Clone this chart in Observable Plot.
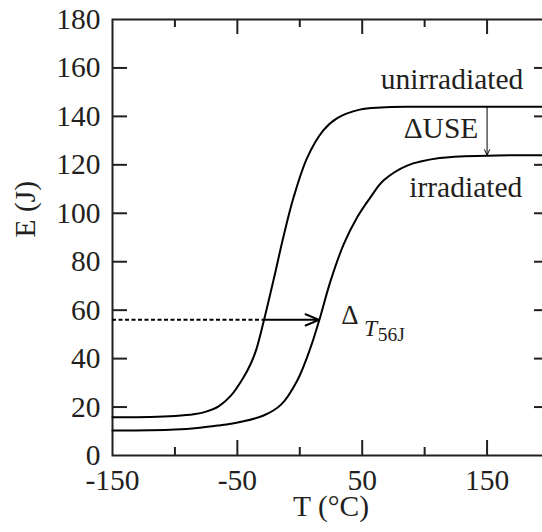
<!DOCTYPE html>
<html>
<head>
<meta charset="utf-8">
<script src="https://cdn.jsdelivr.net/npm/d3@7"></script>
<script src="https://cdn.jsdelivr.net/npm/@observablehq/plot@0.6"></script>
<style>
  html, body { margin: 0; padding: 0; background: white; overflow: hidden; }
  #chart svg { overflow: hidden; font-family: "Liberation Serif", serif; }
</style>
</head>
<body>
<div id="chart"></div>
<script>
// Unirradiated Charpy curve (T in °C, E in J)
const unirrT = [-150, -120, -100, -85, -75, -65, -55, -45, -39, -35, -29, -21, -13, -5, 6, 19, 30, 48, 65, 90, 130, 200];
const unirrE = [15.8, 15.9, 16.3, 17.0, 18.1, 20.3, 24.8, 32.3, 38.2, 43.5, 55.2, 72.5, 90.5, 106.5, 123.0, 134.3, 139.3, 142.8, 143.7, 144.0, 144.0, 144.0];

// Irradiated Charpy curve
const irrT = [-150, -120, -100, -80, -65, -55, -47, -29, -15, -2, 8.6, 15.5, 24.6, 35.3, 46, 56.6, 67, 86, 112, 150, 200];
const irrE = [10.3, 10.4, 10.7, 11.5, 12.4, 13.1, 13.9, 16.5, 21.0, 31.0, 44.5, 55.7, 72.0, 87.4, 98.4, 106.6, 113.5, 119.7, 122.8, 123.8, 124.0];

// Annotations
const e56 = 56;            // 56 J level
const t56Unirr = -28.7;    // crossing of unirradiated curve
const t56Irr = 15.5;       // crossing of irradiated curve
const useT = 150;          // position of ΔUSE arrow
const useUpper = 144;
const useLower = 124;

// Axis ticks
const xTickLabels = [-150, -50, 50, 150];
const xMajorTicks = [-50, 50, 150];
const xMinorTicks = [-100, 0, 100];
const yTickLabels = [0, 20, 40, 60, 80, 100, 120, 140, 160, 180];
const yInnerTicks = [20, 40, 60, 80, 100, 120, 140, 160];

// Text labels
const labels = [
  {x: 179, y: 155.3, text: "unirradiated"},
  {x: 178.2, y: 110.8, text: "irradiated"},
  {x: 143, y: 134.8, text: "ΔUSE"}
];

const unirr = unirrT.map((t, i) => ({T: t, E: unirrE[i]}));
const irr = irrT.map((t, i) => ({T: t, E: irrE[i]}));

const ink = "#231f20";
const serif = "Liberation Serif";
const fs = 29.5;
const frameH = 436; // 532 - 19 - 77
const frameW = 437; // 542 - 112 + 7

const chart = Plot.plot({
  width: 542,
  height: 532,
  marginLeft: 112,
  marginRight: -7,
  marginTop: 19,
  marginBottom: 77,
  x: {domain: [-150, 200]},
  y: {domain: [0, 180]},
  style: {fontFamily: serif, fontSize: fs + "px", color: ink, background: "white", overflow: "hidden"},
  marks: [
    // ticks (inward)
    Plot.ruleX(xMajorTicks, {stroke: ink, strokeWidth: 2, insetTop: frameH - 15}),
    Plot.ruleX(xMinorTicks, {stroke: ink, strokeWidth: 2, insetTop: frameH - 8}),
    Plot.ruleX(xMajorTicks, {stroke: ink, strokeWidth: 2, insetBottom: frameH - 15}),
    Plot.ruleX(xMinorTicks, {stroke: ink, strokeWidth: 2, insetBottom: frameH - 8}),
    Plot.ruleY(yInnerTicks, {stroke: ink, strokeWidth: 2, insetRight: frameW - 15}),
    Plot.ruleY(yInnerTicks, {stroke: ink, strokeWidth: 2, insetLeft: frameW - 15}),
    Plot.axisX({ticks: xTickLabels, tickSize: 0, tickPadding: 13.5, tickFormat: d => String(d), label: null, fontSize: fs, fontFamily: serif, fill: ink}),
    Plot.axisY({ticks: yTickLabels, tickSize: 0, tickPadding: 12, tickFormat: d => String(d), label: null, fontSize: fs, fontFamily: serif, fill: ink}),
    Plot.frame({stroke: ink, strokeWidth: 2}),
    // curves
    Plot.line(unirr, {x: "T", y: "E", curve: "catmull-rom", stroke: "black", strokeWidth: 2}),
    Plot.line(irr, {x: "T", y: "E", curve: "catmull-rom", stroke: "black", strokeWidth: 2}),
    // 56 J dotted line and ΔT arrow
    Plot.ruleY([e56], {x1: -150, x2: t56Unirr, stroke: "black", strokeWidth: 2, strokeDasharray: "4,2.5"}),
    Plot.arrow([{x1: t56Unirr, x2: t56Irr, y: e56}], {x1: "x1", x2: "x2", y1: "y", y2: "y", stroke: "black", strokeWidth: 2, headLength: 11, headAngle: 45}),
    // ΔUSE arrow
    Plot.arrow([{x: useT, y1: useUpper, y2: useLower}], {x1: "x", x2: "x", y1: "y1", y2: "y2", stroke: "black", strokeWidth: 1, headLength: 9, headAngle: 50}),
    // labels
    Plot.text(labels, {x: "x", y: "y", text: "text", textAnchor: "end", fontSize: fs, fontFamily: serif, fill: ink}),
    Plot.text(["Δ"], {x: 33.3, y: 57.8, textAnchor: "start", fontSize: 27, fontFamily: serif, fill: ink}),
    Plot.text(["T"], {x: 51.5, y: 52.3, textAnchor: "start", fontSize: 23.5, fontStyle: "italic", fontFamily: serif, fill: ink}),
    Plot.text(["56J"], {x: 62.5, y: 49.9, textAnchor: "start", fontSize: 19.5, fontFamily: serif, fill: ink}),
    // axis titles
    Plot.text(["E (J)"], {frameAnchor: "left", dx: -87, rotate: -90, fontSize: fs, fontFamily: serif, fill: ink}),
    Plot.text(["T (°C)"], {frameAnchor: "bottom", dy: 60, fontSize: fs, fontFamily: serif, fill: ink})
  ]
});
document.getElementById("chart").appendChild(chart);
</script>
</body>
</html>
